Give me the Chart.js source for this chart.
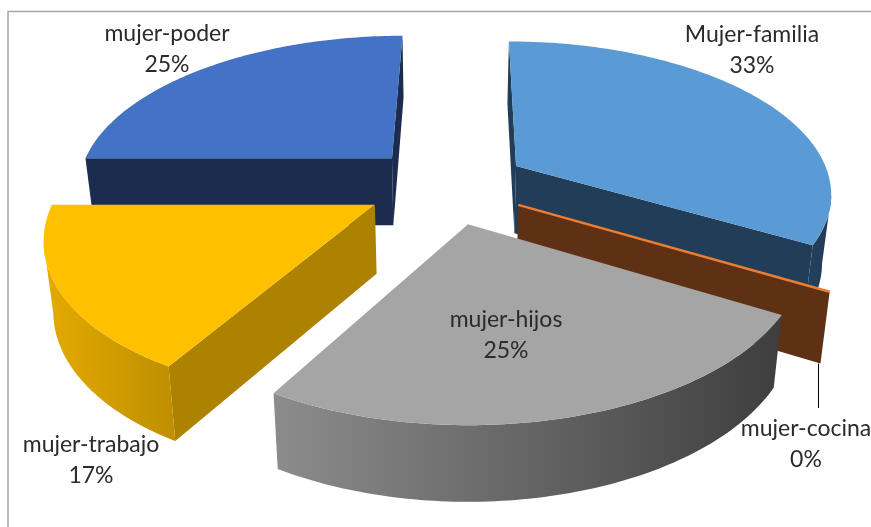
<!DOCTYPE html>
<html lang="es">
<head>
<meta charset="UTF-8">
<title>Mujer</title>
<script src="https://cdn.jsdelivr.net/npm/chart.js@4.4.1/dist/chart.umd.min.js"></script>
<style>
  html, body { margin: 0; padding: 0; background: #fff; overflow: hidden; }
  canvas { display: block; }
</style>
</head>
<body>
<canvas id="pie" width="871" height="527"></canvas>
<script>
  // data
  const categories = ['Mujer-familia', 'mujer-cocina', 'mujer-hijos', 'mujer-trabajo', 'mujer-poder'];
  const values = [4, 0, 3, 2, 3];

  // colours: top face, radial cut face, outer wall gradient (left -> right)
  const topColors = ['#5B9BD5', '#ED7D31', '#A5A5A5', '#FFC000', '#4472C4'];
  const faceColors = ['#223D57', '#5E3114', '#6a6a6a', '#AD8200', '#1B2C4E'];
  const wallColors = [
    ['#22405c', '#223a54'],
    ['#5E3114', '#5E3114'],
    ['#8c8c8c', '#3e3e3e'],
    ['#e4ab00', '#c09000'],
    ['#1B2C4E', '#1B2C4E']
  ];

  // label block centres (two lines: name, percent)
  const labelAt = [[752, 50], [806, 444], [506, 335], [91, 460], [167, 49]];

  // fake 3d view
  const TILT = 0.48;    // vertical squash of the disc
  const KP = 0.17;      // perspective strength (front bigger)
  const EYE_X = 0.06;   // eye sits a little right of the pie centre
  const DEPTH = 68;     // thickness in px
  const LEAN = 0.024;   // side edges lean in toward the bottom
  const STEPS = 90;

  function pt(s, ang, rad, down) {
    const X = s.ox + rad * Math.cos(ang);
    const Y = s.oy - rad * Math.sin(ang);
    const p = 1 / (1 + KP * Y);
    const x = s.r * (EYE_X + (X - EYE_X) * p) * (1 - LEAN * down);
    return [s.x + x, s.y - s.r * TILT * Y * p + DEPTH * Math.sqrt(p) * down];
  }

  function poly(ctx, pts, fill) {
    ctx.beginPath();
    ctx.moveTo(pts[0][0], pts[0][1]);
    for (let k = 1; k < pts.length; k++) ctx.lineTo(pts[k][0], pts[k][1]);
    ctx.closePath();
    ctx.fillStyle = fill;
    ctx.fill();
  }

  function drawSlice(ctx, s) {
    const i = s.i;
    const camX = EYE_X, camY = -1 / KP;

    // radial cut faces
    const faces = [
      { ang: s.a0, n: [Math.sin(s.a0), Math.cos(s.a0)] },
      { ang: s.a1, n: [-Math.sin(s.a1), -Math.cos(s.a1)] }
    ];
    faces.forEach(f => {
      const v = f.n[0] * (camX - s.ox) + f.n[1] * (camY - s.oy);
      if (v <= 0) return;
      poly(ctx, [pt(s, f.ang, 0, 0), pt(s, f.ang, 1, 0), pt(s, f.ang, 1, 1), pt(s, f.ang, 0, 1)], faceColors[i]);
    });

    // outer curved wall, only the part facing the viewer
    if (s.a1 > s.a0) {
      const runs = [];
      let run = null;
      for (let k = 0; k <= STEPS; k++) {
        const t = s.a0 + (s.a1 - s.a0) * k / STEPS;
        const vis = -1 + Math.cos(t) * (camX - s.ox) + Math.sin(t) * (s.oy - camY) > 0;
        if (vis) {
          if (!run) { run = []; runs.push(run); }
          run.push(t);
        } else {
          run = null;
        }
      }
      runs.forEach(r => {
        if (r.length < 2) return;
        const top = r.map(t => pt(s, t, 1, 0));
        const bot = r.map(t => pt(s, t, 1, 1)).reverse();
        const xs = top.map(q => q[0]);
        const x0 = Math.min(...xs), x1 = Math.max(...xs);
        const g = ctx.createLinearGradient(x0, 0, Math.max(x1, x0 + 1), 0);
        g.addColorStop(0, wallColors[i][0]);
        g.addColorStop(1, wallColors[i][1]);
        poly(ctx, top.concat(bot), g);
      });
    }

    // top face
    if (s.a1 > s.a0) {
      const pts = [pt(s, 0, 0, 0)];
      for (let k = 0; k <= STEPS; k++) {
        pts.push(pt(s, s.a0 + (s.a1 - s.a0) * k / STEPS, 1, 0));
      }
      poly(ctx, pts, topColors[i]);
    } else {
      const a = pt(s, s.a0, 0, 0), b = pt(s, s.a0, 1, 0);
      ctx.beginPath();
      ctx.moveTo(a[0], a[1]);
      ctx.lineTo(b[0], b[1]);
      ctx.strokeStyle = topColors[i];
      ctx.lineWidth = 2.5;
      ctx.stroke();
    }
  }

  function sliceGeometry(chart) {
    return chart.getDatasetMeta(0).data.map((arc, i) => {
      const p = arc.getProps(['x', 'y', 'startAngle', 'endAngle', 'outerRadius'], true);
      const mid = (p.startAngle + p.endAngle) / 2;
      const e = (arc.options.offset || 0) / p.outerRadius;
      return {
        i, x: p.x, y: p.y, r: p.outerRadius, a0: p.startAngle, a1: p.endAngle,
        ox: e * Math.cos(mid), oy: -e * Math.sin(mid)
      };
    });
  }

  const pie3d = {
    id: 'pie3d',
    beforeDraw(chart) {
      // chart frame (only top and left edges fall inside the page)
      const ctx = chart.ctx;
      ctx.save();
      ctx.strokeStyle = '#a6a6a6';
      ctx.lineWidth = 1.5;
      ctx.beginPath();
      ctx.moveTo(871, 11.5);
      ctx.lineTo(8, 11.5);
      ctx.lineTo(8, 527);
      ctx.stroke();
      ctx.restore();
    },
    beforeDatasetsDraw(chart) {
      const ctx = chart.ctx;
      const slices = sliceGeometry(chart);
      ctx.save();
      slices.slice().sort((a, b) => b.oy - a.oy).forEach(s => drawSlice(ctx, s));
      ctx.restore();
      return false;
    },
    afterDraw(chart) {
      const ctx = chart.ctx;
      const slices = sliceGeometry(chart);
      const data = chart.data.datasets[0].data;
      const total = data.reduce((a, b) => a + b, 0);
      ctx.save();
      ctx.font = '23px Lato, "Open Sans", sans-serif';
      ctx.fillStyle = '#2b2b2b';
      ctx.textAlign = 'center';
      ctx.textBaseline = 'middle';
      chart.data.labels.forEach((name, i) => {
        const [lx, ly] = labelAt[i];
        ctx.fillText(name, lx, ly - 15.5);
        ctx.fillText(Math.round(data[i] / total * 100) + '%', lx, ly + 15.5);
        // leader line for the empty slice
        if (data[i] === 0) {
          const c = pt(slices[i], slices[i].a0, 1, 1);
          ctx.beginPath();
          ctx.moveTo(Math.round(c[0]) - 1.5, c[1]);
          ctx.lineTo(Math.round(c[0]) - 1.5, ly - 36);
          ctx.strokeStyle = '#000';
          ctx.lineWidth = 1;
          ctx.stroke();
        }
      });
      ctx.restore();
    }
  };

  new Chart(document.getElementById('pie').getContext('2d'), {
    type: 'pie',
    data: {
      labels: categories,
      datasets: [{
        data: values,
        backgroundColor: topColors,
        borderWidth: 0,
        offset: 81
      }]
    },
    options: {
      responsive: false,
      animation: false,
      radius: 316,
      layout: { padding: { left: 23, right: 0, top: 0, bottom: 157 } },
      plugins: {
        legend: { display: false },
        tooltip: { enabled: false }
      }
    },
    plugins: [pie3d]
  });
</script>
</body>
</html>
